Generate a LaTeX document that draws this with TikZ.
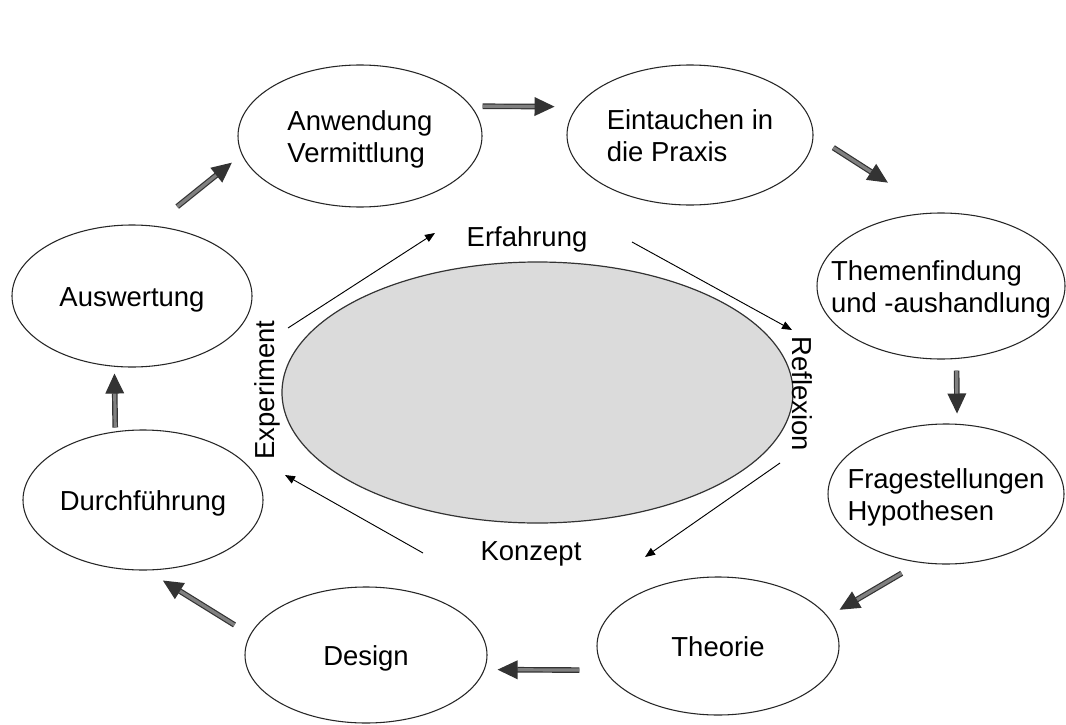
\documentclass[tikz,border=0pt]{standalone}
\usepackage{fontspec}
\setmainfont{Liberation Sans}
\usepackage{calc}
\usetikzlibrary{shapes.geometric,arrows.meta}
\newcommand\ztxt[1]{\makebox[0pt]{\smash{\raisebox{0.5\depth-0.5\height-3pt}{\begin{tabular}{@{}l@{}}#1\end{tabular}}}}}
\begin{document}
\begin{tikzpicture}[x=0.75pt,y=-0.75pt,
  bub/.style={ellipse, draw=black!85, line width=0.8pt, inner sep=0pt, font=\fontsize{20.6}{24.5}\selectfont},
  core/.style={ellipse, draw=black!80, line width=0.9pt, fill=gray!28, inner sep=0pt},
  lbl/.style={inner sep=0pt, font=\fontsize{20.6}{24}\selectfont},
  outer/.style={draw=black!80, line width=0.9pt, double=black!50, double distance=2.4pt, -{Triangle[length=15pt,width=14pt]}},
  inner/.style={draw=black, line width=0.7pt, -{Triangle[length=7.5pt,width=6pt]}}]
\useasboundingbox (0,0) rectangle (1066,724);
\fill[white] (0,0) rectangle (1066,724);

% central ellipse
\node[core, minimum width=383.25pt, minimum height=195.75pt] (core) at (537.5,392.5) {};

% outer cycle
\node[bub, minimum width=183pt,   minimum height=106.5pt] (anw)  at (360,136) {\ztxt{Anwendung\\Vermittlung}};
\node[bub, minimum width=184.5pt, minimum height=105pt]   (ein)  at (690,135) {\ztxt{Eintauchen in\\die Praxis}};
\node[bub, minimum width=186pt,   minimum height=109.5pt] (the)  at (941,286) {\ztxt{Themenfindung\\und -aushandlung}};
\node[bub, minimum width=177pt,   minimum height=105pt]   (fra)  at (946,494) {\ztxt{Fragestellungen\\Hypothesen}};
\node[bub, minimum width=181.5pt, minimum height=103.5pt] (theo) at (718,646) {\ztxt{Theorie}};
\node[bub, minimum width=181.5pt, minimum height=102pt]   (des)  at (366,655) {\ztxt{Design}};
\node[bub, minimum width=180pt,   minimum height=105pt]   (dur)  at (143,500) {\ztxt{Durchführung}};
\node[bub, minimum width=180pt,   minimum height=106.5pt] (aus)  at (132,296) {\ztxt{Auswertung}};

% inner labels
\node[lbl] (erf) at (527,239) {Erfahrung};
\node[lbl, rotate=-90] (ref) at (802,394) {Reflexion};
\node[lbl] (kon) at (531,554) {Konzept};
\node[lbl, rotate=90] (exp) at (267,390) {Experiment};

% inner arrow ends
\coordinate (i1a) at (288,328); \coordinate (i1b) at (435,233);
\coordinate (i2a) at (632,242); \coordinate (i2b) at (792,330);
\coordinate (i3a) at (780,463); \coordinate (i3b) at (645,557);
\coordinate (i4a) at (423,553); \coordinate (i4b) at (285,475);
\draw[inner] (i1a) -- (i1b);
\draw[inner] (i2a) -- (i2b);
\draw[inner] (i3a) -- (i3b);
\draw[inner] (i4a) -- (i4b);

% outer arrows
\draw[outer, shorten <=8.4pt,  shorten >=16.7pt] (anw.15)  -- (ein.166);
\draw[outer, shorten <=17.6pt, shorten >=41.6pt] (ein.0)   -- (the.95);
\draw[outer, shorten <=8.7pt,  shorten >=7.7pt]  (the.-78) -- (fra.81);
\draw[outer, shorten <=15.6pt, shorten >=10pt]   (fra.249) -- (theo.15);
\draw[outer, shorten <=18.5pt, shorten >=9.6pt]  (theo.192) -- (des.-7);
\draw[outer, shorten <=13.7pt, shorten >=14.3pt] (des.170) -- (dur.-87);
\draw[outer, shorten <=2.9pt,  shorten >=5.1pt]  (dur.112) -- (aus.256);
\draw[outer, shorten <=22.8pt, shorten >=9.5pt]  (aus.73)  -- (anw.189);
\end{tikzpicture}
\end{document}
